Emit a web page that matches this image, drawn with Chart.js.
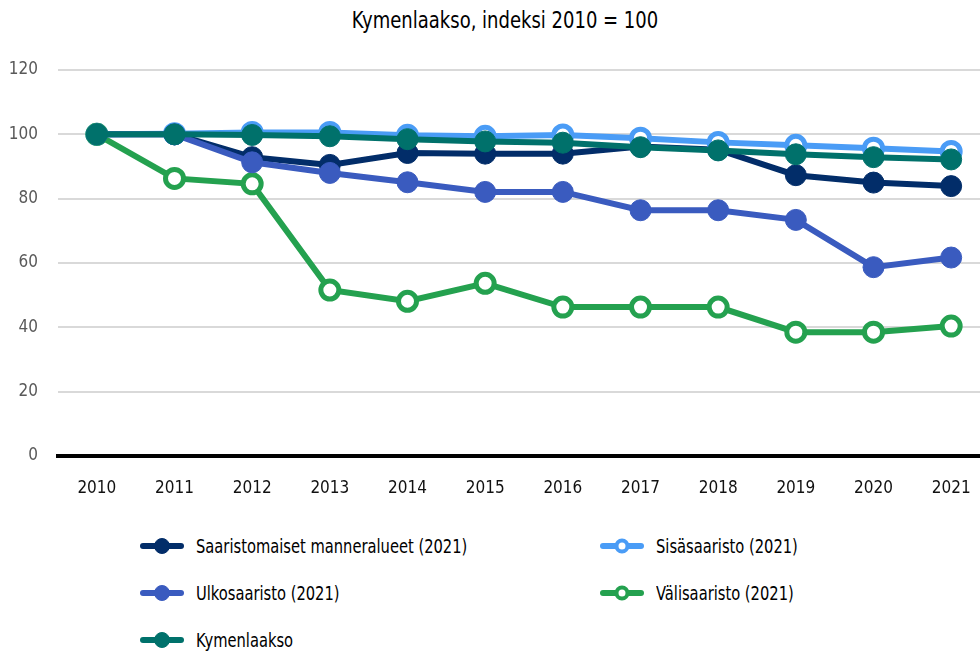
<!DOCTYPE html>
<html>
<head>
<meta charset="utf-8">
<script src="https://cdn.jsdelivr.net/npm/chart.js@4"></script>
<style>
  body { margin: 0; width: 980px; height: 654px; overflow: hidden; background: #fff;
         font-family: "Liberation Sans Narrow", "DejaVu Sans Condensed", sans-serif; }
  #wrap { position: absolute; left: 0; top: 0; width: 1005px; height: 510px; }
  #title { position: absolute; left: 15px; width: 980px; top: 7px; text-align: center;
           font-size: 23px; color: #000; transform: scaleX(0.87); transform-origin: 490px 0; }
  #legend { position: absolute; left: 0; top: 535px; width: 980px; }
  .item { position: absolute; display: flex; align-items: center; font-size: 19px; color: #000; }
  .item svg { margin-right: 12px; }
  .item span { display: inline-block; transform: scaleX(0.86); transform-origin: 0 50%; white-space: nowrap; }
</style>
</head>
<body>
<div id="title">Kymenlaakso, indeksi 2010 = 100</div>
<div id="wrap"><canvas id="chart" width="1005" height="510"></canvas></div>
<div id="legend"></div>
<script>
// data
var years = ["2010","2011","2012","2013","2014","2015","2016","2017","2018","2019","2020","2021"];
var manner = [100, 100, 92.9, 90.5, 94.2, 94.0, 94.0, 96.2, 95.2, 87.3, 85.0, 83.9];
var sisa   = [100, 100.2, 100.6, 100.6, 99.7, 99.4, 99.8, 98.8, 97.5, 96.6, 95.7, 94.7];
var ulko   = [100, 100, 91.3, 88.0, 85.1, 82.1, 82.1, 76.4, 76.4, 73.4, 58.7, 61.7];
var vali   = [100, 86.3, 84.6, 51.6, 48.1, 53.7, 46.3, 46.3, 46.3, 38.5, 38.5, 40.4];
var kymen  = [100, 100, 99.8, 99.4, 98.5, 97.8, 97.4, 96.0, 95.0, 93.8, 92.9, 92.2];
var yTicks = [0, 20, 40, 60, 80, 100, 120];

var FONT = "'Liberation Sans Narrow', 'DejaVu Sans Condensed', sans-serif";

function series(label, data, color, hollow, order) {
    return {
        label: label,
        data: data,
        borderColor: color,
        backgroundColor: hollow ? '#ffffff' : color,
        pointBorderColor: color,
        pointBackgroundColor: hollow ? '#ffffff' : color,
        pointRadius: hollow ? 9 : 10.5,
        pointBorderWidth: hollow ? 5 : 1,
        pointHoverRadius: 10,
        borderWidth: 6,
        fill: false,
        tension: 0,
        order: order,
        hollow: hollow
    };
}

var datasets = [
    series("Saaristomaiset manneralueet (2021)", manner, "#022d69", false, 4),
    series("Sisäsaaristo (2021)", sisa, "#4a9cf6", true, 3),
    series("Ulkosaaristo (2021)", ulko, "#3a5bbf", false, 1),
    series("Välisaaristo (2021)", vali, "#24a14f", true, 2),
    series("Kymenlaakso", kymen, "#00716b", false, 0)
];

var chart = new Chart(document.getElementById("chart"), {
    type: 'line',
    data: { labels: years, datasets: datasets },
    options: {
        responsive: false,
        animation: false,
        devicePixelRatio: 1,
        layout: { padding: { top: 70, right: 2, bottom: 0, left: 0 } },
        plugins: {
            legend: { display: false },
            title: { display: false },
            tooltip: { enabled: false }
        },
        scales: {
            x: {
                offset: true,
                grid: { display: false },
                border: { display: true, color: '#000', width: 4 },
                ticks: { color: '#111', font: { family: FONT, size: 17 }, padding: 14, maxRotation: 0, autoSkip: false },
                afterFit: function(s) { s.height = 54; }
            },
            y: {
                min: 0, max: 120,
                afterBuildTicks: function(s) { s.ticks = yTicks.map(function(v) { return { value: v }; }); },
                grid: { color: '#d9d9d9', lineWidth: 2, drawTicks: false },
                border: { display: false },
                ticks: { color: '#595959', font: { family: FONT, size: 17 }, padding: 20 },
                afterFit: function(s) { s.width = 58; }
            }
        }
    }
});

// legend in two columns
var slots = [[140, 0], [600, 0], [140, 47], [600, 47], [140, 94]];
var leg = document.getElementById("legend");
datasets.forEach(function(ds, i) {
    var d = document.createElement("div");
    d.className = "item";
    d.style.left = slots[i][0] + "px";
    d.style.top = slots[i][1] + "px";
    var inner = ds.hollow ? '#ffffff' : ds.borderColor;
    d.innerHTML = '<svg width="44" height="22">' +
        '<line x1="3" y1="11" x2="41" y2="11" stroke="' + ds.borderColor + '" stroke-width="6" stroke-linecap="round"/>' +
        '<circle cx="22" cy="11" r="' + (ds.hollow ? 5.5 : 7.5) + '" fill="' + inner + '" stroke="' + ds.borderColor + '" stroke-width="' + (ds.hollow ? 4 : 1) + '"/>' +
        '</svg><span>' + ds.label + '</span>';
    leg.appendChild(d);
});
</script>
</body>
</html>
